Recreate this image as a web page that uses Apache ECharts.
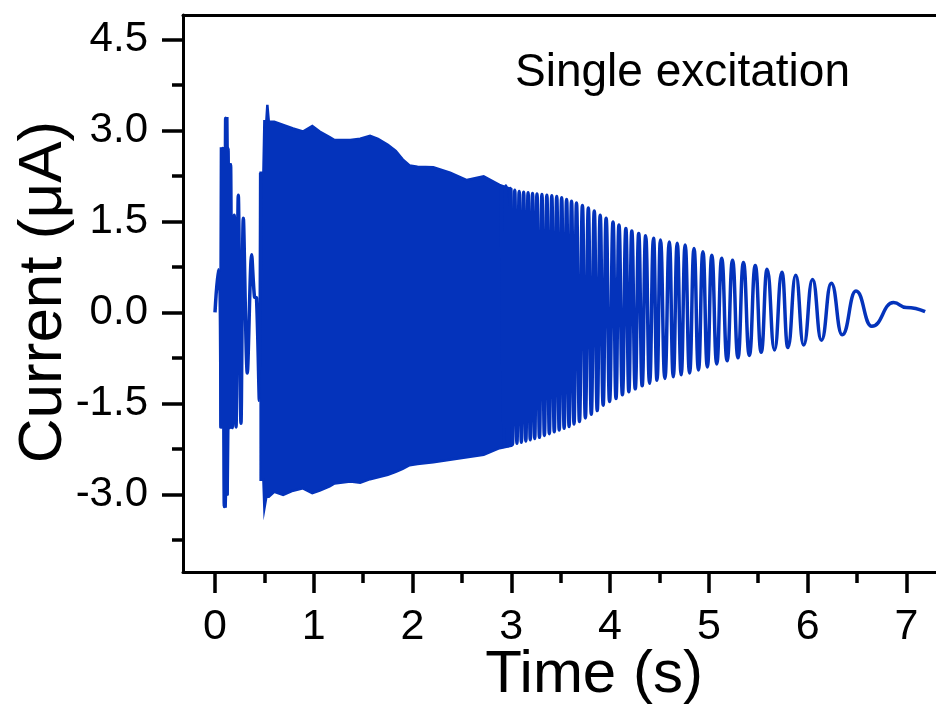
<!DOCTYPE html>
<html>
<head>
<meta charset="utf-8">
<script src="https://cdn.jsdelivr.net/npm/echarts@6/dist/echarts.min.js"></script>
<style>
html,body{margin:0;padding:0;background:#fff;}
#chart{width:936px;height:713px;}
</style>
</head>
<body>
<div id="chart"></div>
<script>
// ---- axis ticks ----
const xTicks = [0, 1, 2, 3, 4, 5, 6, 7];
const xMinorTicks = [0.5, 1.5, 2.5, 3.5, 4.5, 5.5, 6.5];
const yTicks = [-3.0, -1.5, 0.0, 1.5, 3.0, 4.5];
const yMinorTicks = [-3.75, -2.25, -0.75, 0.75, 2.25, 3.75];

// ---- early part of the trace (0 - 0.46 s), peaks / troughs ----
const earlyTime    = [0, 0.034, 0.052, 0.062, 0.078, 0.094, 0.108, 0.12, 0.132, 0.145, 0.158, 0.175, 0.195, 0.213, 0.236, 0.263, 0.287, 0.327, 0.371, 0.40, 0.42, 0.449, 0.462];
const earlyCurrent = [0, 0.70, 0.30, -1.89, 2.70, -3.20, 3.20, -3.00, 2.70, -1.90, 2.43, -1.90, 1.60, -1.89, 1.93, -1.83, 1.55, -1.00, 0.95, 0.25, 0.24, -1.45, 2.30];

// ---- first short burst (0.056 - 0.16 s): envelope ----
const burstTime  = [0.056, 0.060, 0.094, 0.098, 0.108, 0.111, 0.125, 0.128, 0.135, 0.158];
const burstUpper = [0.40, 2.70, 2.70, 2.70, 2.70, 3.20, 3.20, 2.70, 2.43, 2.43];
const burstLower = [-1.89, -1.89, -1.89, -3.20, -3.20, -3.00, -3.00, -3.00, -1.90, -1.90];

// ---- dense block: envelope (0.46 - 3.0 s) ----
const envTime  = [0.462, 0.49, 0.50, 0.52, 0.53, 0.545, 0.60, 0.69, 0.79, 0.89, 0.985, 1.06, 1.16, 1.21, 1.37, 1.47, 1.57, 1.65, 1.75, 1.83, 1.90, 1.97, 2.05, 2.21, 2.38, 2.55, 2.72, 2.88, 3.0];
const envUpper = [2.30, 2.30, 3.15, 3.15, 3.42, 3.14, 3.14, 3.09, 3.03, 2.98, 3.07, 2.98, 2.89, 2.84, 2.84, 2.86, 2.91, 2.86, 2.76, 2.66, 2.52, 2.42, 2.40, 2.39, 2.30, 2.18, 2.24, 2.10, 2.03];
const envLower = [-2.76, -2.76, -3.23, -3.04, -3.04, -3.04, -2.96, -3.01, -2.94, -2.90, -2.98, -2.94, -2.87, -2.82, -2.79, -2.81, -2.75, -2.72, -2.68, -2.63, -2.58, -2.52, -2.50, -2.47, -2.43, -2.39, -2.35, -2.24, -2.20];

// ---- resolved oscillations: successive peaks and troughs (2.9 - 7.2 s) ----
const oscTime = [
  2.900, 2.922, 2.945, 2.967, 2.990, 3.012, 3.035, 3.057, 3.080, 3.102,
  3.125, 3.147, 3.170, 3.192, 3.215, 3.237, 3.260, 3.285, 3.310, 3.335,
  3.360, 3.385, 3.410, 3.435, 3.460, 3.485, 3.510, 3.535, 3.560, 3.585,
  3.610, 3.635, 3.660, 3.690, 3.720, 3.750, 3.780, 3.810, 3.840, 3.870,
  3.900, 3.930, 3.960, 3.995, 4.030, 4.060, 4.090, 4.125, 4.160, 4.190,
  4.220, 4.255, 4.290, 4.325, 4.360, 4.400, 4.440, 4.475, 4.510, 4.555,
  4.600, 4.640, 4.680, 4.720, 4.760, 4.805, 4.850, 4.895, 4.940, 4.985,
  5.030, 5.080, 5.130, 5.185, 5.240, 5.295, 5.350, 5.410, 5.470, 5.530,
  5.590, 5.665, 5.740, 5.800, 5.880, 5.960, 6.050, 6.140, 6.240, 6.350,
  6.490, 6.650, 6.870, 7.000, 7.190
];
const oscCurrent = [
  2.10, -2.21, 2.08, -2.20, 2.04, -2.18, 2.01, -2.16, 1.99, -2.14,
  1.98, -2.12, 1.97, -2.10, 1.96, -2.08, 1.95, -2.06, 1.94, -2.03,
  1.93, -2.00, 1.92, -1.97, 1.91, -1.94, 1.89, -1.91, 1.86, -1.88,
  1.83, -1.84, 1.80, -1.80, 1.76, -1.74, 1.72, -1.68, 1.67, -1.62,
  1.60, -1.53, 1.55, -1.47, 1.49, -1.42, 1.44, -1.36, 1.38, -1.31,
  1.34, -1.26, 1.30, -1.21, 1.26, -1.17, 1.22, -1.12, 1.19, -1.09,
  1.16, -1.06, 1.14, -1.03, 1.11, -1.00, 1.05, -0.95, 1.00, -0.90,
  0.94, -0.85, 0.89, -0.80, 0.86, -0.75, 0.82, -0.71, 0.77, -0.66,
  0.71, -0.62, 0.66, -0.58, 0.61, -0.54, 0.54, -0.46, 0.48, -0.37,
  0.35, -0.23, 0.16, 0.08, 0.01
];

const BLUE = '#0433bb';
const FONT = '"Liberation Sans", Arial, sans-serif';

const chart = echarts.init(document.getElementById('chart'), null, {renderer: 'canvas'});

const xMin = -0.324, xMax = 7.3, yMin = -4.28, yMax = 4.9;
const axisBase = {
  type: 'value', min: xMin, max: xMax, splitLine: {show: false}
};

function envelopeSeries(times, upper, lower) {
  return {
    type: 'custom',
    xAxisIndex: 0, yAxisIndex: 0,
    data: times.map((t, i) => [t, upper[i], lower[i]]),
    encode: {x: 0, y: [1, 2]},
    renderItem: function (params, api) {
      if (params.dataIndex !== 0) return null;
      const pts = [];
      for (let i = 0; i < times.length; i++) pts.push(api.coord([times[i], upper[i]]));
      for (let i = times.length - 1; i >= 0; i--) pts.push(api.coord([times[i], lower[i]]));
      return {type: 'polygon', shape: {points: pts}, style: {fill: BLUE, stroke: BLUE, lineWidth: 2.5}};
    },
    silent: true
  };
}

const option = {
  animation: false,
  backgroundColor: '#fff',
  grid: {left: 183, top: 15, width: 753, height: 557, containLabel: false},
  xAxis: [
    Object.assign({}, axisBase, {
      position: 'bottom',
      axisLine: {show: true, onZero: false, lineStyle: {color: '#000', width: 3}},
      axisTick: {show: true, inside: false, length: 21, customValues: xTicks, lineStyle: {color: '#000', width: 3.5}},
      axisLabel: {show: true, customValues: xTicks, margin: 34, fontSize: 43, fontFamily: FONT, color: '#000',
        formatter: v => String(v)}
    }),
    Object.assign({}, axisBase, {
      position: 'bottom',
      axisLine: {show: false, onZero: false},
      axisTick: {show: true, inside: false, length: 11, customValues: xMinorTicks, lineStyle: {color: '#000', width: 3.5}},
      axisLabel: {show: false}
    }),
    Object.assign({}, axisBase, {
      position: 'top',
      axisLine: {show: true, onZero: false, lineStyle: {color: '#000', width: 3}},
      axisTick: {show: false},
      axisLabel: {show: false}
    })
  ],
  yAxis: [
    {
      type: 'value', min: yMin, max: yMax, position: 'left', splitLine: {show: false},
      axisLine: {show: true, onZero: false, lineStyle: {color: '#000', width: 3}},
      axisTick: {show: true, inside: false, length: 21, customValues: yTicks, lineStyle: {color: '#000', width: 3.5}},
      axisLabel: {show: true, customValues: yTicks, margin: 35, fontSize: 42, fontFamily: FONT, color: '#000',
        formatter: v => v.toFixed(1)}
    },
    {
      type: 'value', min: yMin, max: yMax, position: 'left', splitLine: {show: false},
      axisLine: {show: false, onZero: false},
      axisTick: {show: true, inside: false, length: 11, customValues: yMinorTicks, lineStyle: {color: '#000', width: 3.5}},
      axisLabel: {show: false}
    }
  ],
  series: [
    envelopeSeries(burstTime, burstUpper, burstLower),
    envelopeSeries(envTime, envUpper, envLower),
    {
      type: 'line', xAxisIndex: 0, yAxisIndex: 0,
      data: earlyTime.map((t, i) => [t, earlyCurrent[i]]),
      showSymbol: false, smooth: 0.3,
      lineStyle: {color: BLUE, width: 3.5}, silent: true
    },
    {
      type: 'line', xAxisIndex: 0, yAxisIndex: 0,
      data: oscTime.map((t, i) => [t, oscCurrent[i]]),
      showSymbol: false, smooth: 0.5, smoothMonotone: 'x',
      lineStyle: {color: BLUE, width: 3.5}, silent: true
    }
  ],
  graphic: [
    {type: 'text', x: 515, y: 73, style: {text: 'Single excitation', font: '46px ' + FONT, fill: '#000', textAlign: 'left', textVerticalAlign: 'middle'}},
    {type: 'text', x: 594, y: 675, style: {text: 'Time (s)', font: '60px ' + FONT, fill: '#000', textAlign: 'center', textVerticalAlign: 'middle'}},
    {type: 'text', x: 44, y: 292, rotation: Math.PI / 2, style: {text: 'Current (μA)', font: '62px ' + FONT, fill: '#000', textAlign: 'center', textVerticalAlign: 'middle'}}
  ]
};
chart.setOption(option);
</script>
</body>
</html>
